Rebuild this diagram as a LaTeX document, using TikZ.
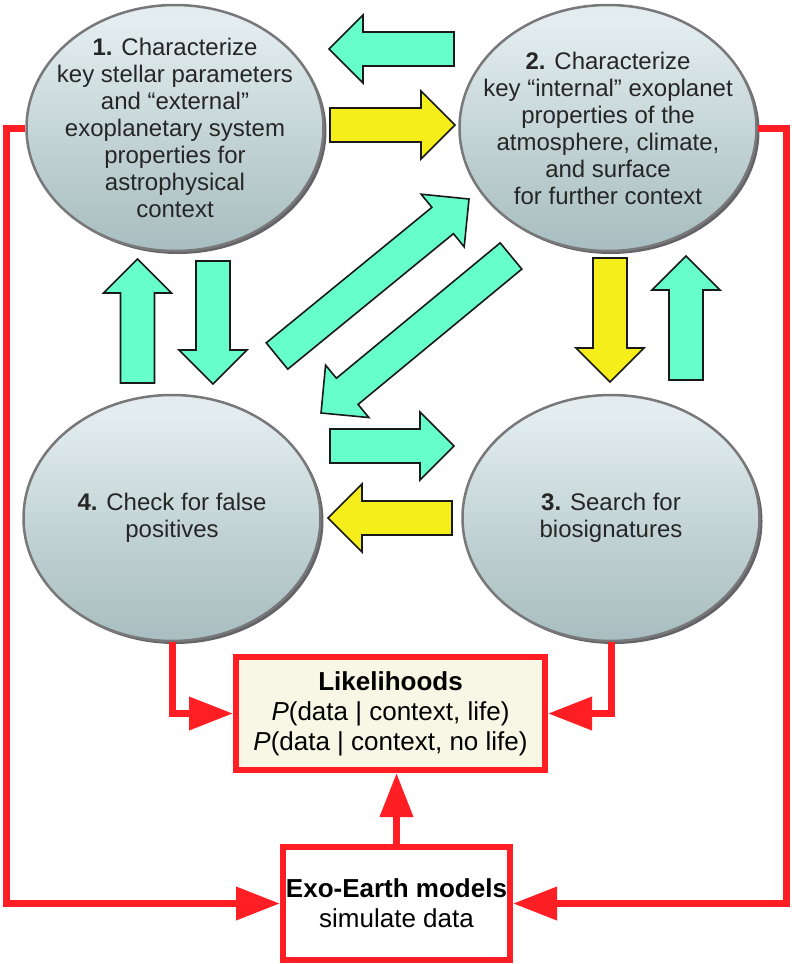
\documentclass[tikz,border=0pt]{standalone}
\usepackage{fontspec}
\setmainfont{Liberation Sans}
\usetikzlibrary{arrows.meta,shapes.geometric,shadows}

\definecolor{aqua}{RGB}{102,255,204}
\definecolor{lemon}{RGB}{245,238,26}
\definecolor{exored}{RGB}{255,30,35}
\definecolor{cream}{RGB}{248,246,228}
\definecolor{orbtop}{RGB}{208,218,220}
\definecolor{orblight}{RGB}{228,238,240}
\definecolor{orbmid}{RGB}{185,203,205}
\definecolor{orbdark}{RGB}{140,168,170}
\definecolor{orbedge}{RGB}{120,120,122}
\definecolor{orbrim}{RGB}{100,100,104}

\pgfdeclareverticalshading{orbshade}{100bp}{color(0bp)=(orbdark); color(40bp)=(orbmid);
  color(72bp)=(orblight); color(100bp)=(orbtop)}

\tikzset{
  orbnode/.style = {ellipse, draw=orbedge, line width=2.5pt, shading=orbshade,
    minimum width=297pt, minimum height=246pt,
    drop shadow={shadow xshift=3pt, shadow yshift=-3pt, fill=orbrim, opacity=1}},% step ellipse
  orbtext/.style = {align=center, inner sep=0pt, text=black!85,
    font=\fontsize{24}{27}\selectfont},% text inside an ellipse
  redbox/.style = {rectangle, draw=exored, line width=6pt, align=center,
    inner sep=2pt, font=\fontsize{26}{30}\selectfont},% likelihood / model box
  redline/.style = {draw=exored, line width=7pt,
    -{Triangle[length=44pt,width=32pt]}},
  blockarrow/.style = {draw=black!90, line width=1.6pt, line join=miter}
}

% fat arrow: fill, tail x, tail y, tip x, tip y
\newcommand\fatarrow[5]{%
  \pgfmathsetmacro\arrlen{veclen(#4-#2,#5-#3)}%
  \pgfmathsetmacro\arrang{atan2(#3-#5,#4-#2)}%
  \draw[blockarrow, fill=#1, shift={(#2,#3)}, rotate=\arrang]
    (0,-17) -- (\arrlen-34,-17) -- (\arrlen-34,-34) -- (\arrlen,0)
    -- (\arrlen-34,34) -- (\arrlen-34,17) -- (0,17) -- cycle;}

\begin{document}
\begin{tikzpicture}[x=1pt,y=-1pt]
  \useasboundingbox (0,0) rectangle (792,964);

  \node [orbnode] (e1) at (175,128) {};
  \node [orbnode] (e2) at (608,128) {};
  \node [orbnode] (e3) at (611,518) {};
  \node [orbnode] (e4) at (172,518) {};

  \node [orbtext] (t1) at (e1) {\textbf{1.} Characterize\\key stellar parameters\\and “external”\\exoplanetary system\\properties for\\astrophysical\\context};
  \node [orbtext] (t2) at (e2) {\textbf{2.} Characterize\\key “internal” exoplanet\\properties of the\\atmosphere, climate,\\and surface\\for further context};
  \node [orbtext] (t3) at (e3) {\textbf{3.} Search for\\biosignatures};
  \node [orbtext] (t4) at (e4) {\textbf{4.} Check for false\\positives};

  \node [redbox, fill=cream, minimum width=309pt, minimum height=113pt] (lik) at (390.5,713.5)
    {\textbf{Likelihoods}\\\textit{P}(data | context, life)\\\textit{P}(data | context, no life)};
  \node [redbox, fill=white, minimum width=227pt, minimum height=113pt] (exo) at (396.5,903.5)
    {\textbf{Exo-Earth models}\\simulate data};

  \coordinate (lrail) at (6,903);
  \coordinate (rrail) at (786,903);

  % block arrows between the steps
  \foreach \col/\xa/\ya/\xb/\yb in {aqua/454/49/329/49, lemon/330/125/455/125,
      aqua/137.5/383/137.5/259, aqua/213/261/213/384,
      aqua/277/356/469/199, aqua/511/256/321/413,
      lemon/610/258/610/382, aqua/686/380/686/256,
      aqua/330/446/454/446, lemon/452/518/328/518}
    \fatarrow{\col}{\xa}{\ya}{\xb}{\yb};

  % red feeds into the boxes
  \draw [redline] (e1.west) -- (e1.west -| lrail) |- (exo.west);
  \draw [redline] (e2.east) -- (e2.east -| rrail) |- (exo.east);
  \draw [redline] (e4.south) |- (lik.west);
  \draw [redline] (e3.south) |- (lik.east);
  \draw [redline] (exo.north) -- (exo.north |- lik.south);
\end{tikzpicture}
\end{document}
